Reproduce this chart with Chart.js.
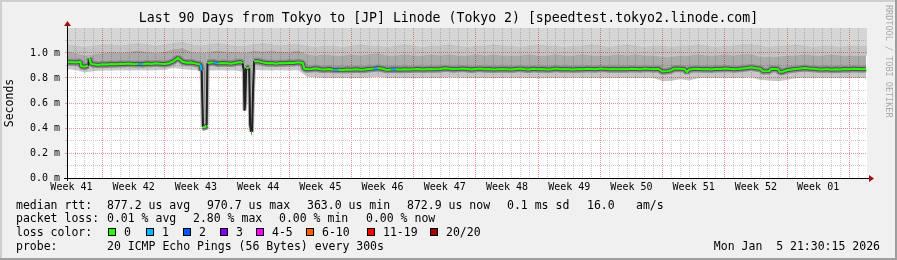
<!DOCTYPE html>
<html>
<head>
<meta charset="utf-8">
<script src="https://cdn.jsdelivr.net/npm/chart.js@4.4.1/dist/chart.umd.min.js"></script>
<style>
  html, body { margin: 0; padding: 0; background: #f0f0f0; }
</style>
</head>
<body>
<canvas id="smokeChart" width="897" height="260"></canvas>
<script>
// Smokeping: Last 90 Days from Tokyo to Linode (Tokyo 2)
// x = days from the left edge of the graph, y = seconds (shown in ms units as "m")

// ---------- data ----------

// median rtt samples (days, value in ms)
const t = [
  0, 0.5, 1, 1.5, 1.6, 2, 2.4, 2.5, 2.7, 3, 3.5,
  4, 4.5, 5, 5.5, 6, 6.5, 7, 7.5, 8, 8.5, 9, 9.5, 10, 10.5,
  11, 11.5, 12, 12.5, 13, 13.5, 14, 14.5, 15, 15.15, 15.3, 15.5, 15.7, 15.8, 16, 16.5, 17, 17.5,
  18, 18.5, 19, 19.5, 19.75, 19.9, 19.97, 20.05, 20.15, 20.5, 20.6, 20.72, 20.82, 20.93, 21.05, 21.5, 22, 22.5, 23, 23.5, 24, 24.5,
  25, 25.5, 26, 26.5, 26.7, 27, 27.5, 28, 28.5, 29, 29.5, 30, 30.5, 31, 31.5,
  32, 32.5, 33, 33.5, 34, 34.5, 35, 35.5, 36, 36.5, 37, 37.5, 38, 38.5,
  39, 39.5, 40, 40.5, 41, 41.5, 42, 42.5, 43, 43.5, 44, 44.5, 45, 45.5,
  46, 46.5, 47, 47.5, 48, 48.5, 49, 49.5, 50, 50.5, 51, 51.5, 52, 52.5,
  53, 53.5, 54, 54.5, 55, 55.5, 56, 56.5, 57, 57.5, 58, 58.5, 59, 59.5,
  60, 60.5, 61, 61.5, 62, 62.5, 63, 63.5, 64, 64.5, 65, 65.5, 66, 66.5,
  67, 67.5, 68, 68.2, 68.5, 69, 69.5, 69.75, 70, 70.5, 71, 71.5, 72, 72.5, 73, 73.5,
  74, 74.5, 75, 75.5, 76, 76.5, 77, 77.5, 78, 78.3, 78.5, 79, 79.2, 79.5, 80, 80.2, 80.5,
  81, 81.5, 82, 82.5, 83, 83.5, 84, 84.5, 85, 85.5, 86, 86.5, 87, 87.5, 88, 88.5, 89, 89.5, 89.9
];
const median = [
  0.925, 0.927, 0.924, 0.930, 0.895, 0.890, 0.900, 0.960, 0.915, 0.910, 0.905,
  0.910, 0.908, 0.912, 0.910, 0.914, 0.912, 0.915, 0.911, 0.913, 0.910, 0.916, 0.913, 0.917, 0.914,
  0.912, 0.918, 0.935, 0.962, 0.930, 0.922, 0.924, 0.915, 0.908, 0.860, 0.410, 0.405, 0.420, 0.920, 0.922, 0.925, 0.915, 0.920,
  0.918, 0.915, 0.922, 0.928, 0.918, 0.860, 0.540, 0.600, 0.880, 0.880, 0.430, 0.370, 0.370, 0.700, 0.935, 0.935, 0.925, 0.918, 0.920, 0.915, 0.920, 0.918,
  0.922, 0.920, 0.925, 0.920, 0.875, 0.870, 0.872, 0.878, 0.870, 0.868, 0.872, 0.865, 0.866, 0.865, 0.868,
  0.866, 0.870, 0.866, 0.868, 0.872, 0.875, 0.880, 0.874, 0.865, 0.868, 0.870, 0.866, 0.870, 0.868,
  0.870, 0.872, 0.868, 0.870, 0.872, 0.870, 0.872, 0.878, 0.875, 0.870, 0.873, 0.876, 0.872, 0.868,
  0.872, 0.875, 0.870, 0.872, 0.868, 0.870, 0.872, 0.870, 0.868, 0.872, 0.875, 0.870, 0.868, 0.874,
  0.870, 0.872, 0.868, 0.870, 0.876, 0.870, 0.872, 0.870, 0.868, 0.872, 0.870, 0.874, 0.872, 0.870,
  0.875, 0.873, 0.870, 0.872, 0.870, 0.872, 0.870, 0.874, 0.872, 0.870, 0.875, 0.873, 0.870, 0.874,
  0.852, 0.855, 0.862, 0.872, 0.876, 0.874, 0.870, 0.848, 0.868, 0.872, 0.874, 0.870, 0.872, 0.868, 0.874, 0.872,
  0.876, 0.874, 0.870, 0.872, 0.876, 0.880, 0.885, 0.878, 0.874, 0.855, 0.855, 0.856, 0.872, 0.874, 0.870, 0.848, 0.850,
  0.862, 0.868, 0.872, 0.876, 0.880, 0.876, 0.874, 0.870, 0.868, 0.872, 0.866, 0.870, 0.868, 0.872, 0.870, 0.874, 0.872, 0.870, 0.872
];

// samples that lost pings (days, lost count of 20)
const lossT = [8.5, 15.15, 17, 19.97, 20.6, 30.5, 35, 37];
const lossN = [1, 1, 1, 1, 1, 1, 1, 1];

// smoke boundaries, one per day (0..90)
const smokeT = [
  0, 1, 2, 3, 4, 5, 6, 7, 8, 9, 10, 11, 12, 13, 14, 15, 16, 17, 18, 19, 20, 21, 22, 23, 24, 25, 26, 27, 28, 29,
  30, 31, 32, 33, 34, 35, 36, 37, 38, 39, 40, 41, 42, 43, 44, 45, 46, 47, 48, 49, 50, 51, 52, 53, 54, 55, 56, 57, 58, 59,
  60, 61, 62, 63, 64, 65, 66, 67, 68, 69, 70, 71, 72, 73, 74, 75, 76, 77, 78, 79, 80, 81, 82, 83, 84, 85, 86, 87, 88, 89, 90
];
const smokeHi = [
  1.07, 1.06, 1.05, 1.06, 1.07, 1.07, 1.06, 1.07, 1.08, 1.07,
  1.06, 1.07, 1.08, 1.09, 1.07, 1.06, 1.07, 1.08, 1.07, 1.06,
  1.06, 1.07, 1.08, 1.07, 1.06, 1.07, 1.07, 1.06, 1.05, 1.06,
  1.06, 1.05, 1.06, 1.07, 1.06, 1.06, 1.05, 1.06, 1.07, 1.06,
  1.05, 1.06, 1.06, 1.07, 1.06, 1.05, 1.06, 1.06, 1.07, 1.06,
  1.06, 1.05, 1.06, 1.07, 1.06, 1.06, 1.05, 1.06, 1.06, 1.07,
  1.06, 1.05, 1.06, 1.07, 1.06, 1.05, 1.06, 1.06, 1.05, 1.06,
  1.06, 1.07, 1.06, 1.05, 1.06, 1.06, 1.07, 1.07, 1.06, 1.05,
  1.06, 1.06, 1.07, 1.06, 1.05, 1.06, 1.06, 1.05, 1.06, 1.06, 1.06
];
const smokeMid = [
  1.01, 1.00, 0.98, 0.99, 1.00, 1.01, 1.00, 1.01, 1.02, 1.01,
  1.00, 1.01, 1.03, 1.04, 1.01, 1.00, 1.01, 1.02, 1.01, 1.01,
  1.00, 1.02, 1.01, 1.02, 1.01, 1.01, 1.02, 0.99, 0.98, 0.99,
  0.98, 0.98, 0.99, 0.98, 0.99, 1.00, 0.98, 0.98, 0.99, 0.98,
  0.98, 0.99, 0.98, 0.99, 0.98, 0.98, 0.99, 0.98, 0.99, 0.98,
  0.98, 0.98, 0.99, 0.98, 0.98, 0.99, 0.98, 0.98, 0.99, 0.98,
  0.98, 0.98, 0.99, 0.98, 0.99, 0.98, 0.98, 0.97, 0.97, 0.98,
  0.98, 0.99, 0.98, 0.98, 0.99, 0.98, 0.99, 0.99, 0.97, 0.97,
  0.97, 0.98, 0.98, 0.99, 0.98, 0.98, 0.99, 0.98, 0.98, 0.98, 0.98
];
const smokeLo = [
  0.870, 0.865, 0.845, 0.855, 0.860, 0.860, 0.862, 0.860, 0.862, 0.860,
  0.862, 0.865, 0.880, 0.870, 0.865, 0.860, 0.860, 0.862, 0.860, 0.860,
  0.845, 0.865, 0.862, 0.860, 0.862, 0.860, 0.862, 0.810, 0.805, 0.800,
  0.800, 0.800, 0.798, 0.800, 0.805, 0.810, 0.800, 0.800, 0.800, 0.798,
  0.800, 0.800, 0.800, 0.805, 0.802, 0.800, 0.800, 0.800, 0.798, 0.800,
  0.800, 0.800, 0.800, 0.798, 0.800, 0.800, 0.800, 0.802, 0.800, 0.800,
  0.800, 0.800, 0.800, 0.800, 0.800, 0.800, 0.800, 0.775, 0.778, 0.790,
  0.780, 0.800, 0.800, 0.800, 0.800, 0.800, 0.800, 0.805, 0.784, 0.780,
  0.775, 0.785, 0.800, 0.800, 0.800, 0.800, 0.800, 0.800, 0.800, 0.800, 0.800
];

// axis ticks
const dayGrid = smokeT;                       // daily minor grid
const weekMid = [0.5, 7.5, 14.5, 21.5, 28.5, 35.5, 42.5, 49.5, 56.5, 63.5, 70.5, 77.5, 84.5];
const weekLabels = ['Week 41', 'Week 42', 'Week 43', 'Week 44', 'Week 45', 'Week 46', 'Week 47',
  'Week 48', 'Week 49', 'Week 50', 'Week 51', 'Week 52', 'Week 01'];
const yGrid = [0, 0.1, 0.2, 0.3, 0.4, 0.5, 0.6, 0.7, 0.8, 0.9, 1.0, 1.1, 1.2];

// legend texts
const rttStats = ['877.2 us avg', '970.7 us max', '363.0 us min', '872.9 us now', '0.1 ms sd', '16.0', 'am/s'];
const lossStats = ['0.01 % avg', '2.80 % max', '0.00 % min', '0.00 % now'];
const lossLabels = ['0', '1', '2', '3', '4-5', '6-10', '11-19', '20/20'];
const lossColors = ['#26ff00', '#00b8ff', '#0059ff', '#7e00ff', '#ff00ff', '#ff5e00', '#ff0000', '#a10000'];
const probeText = '20 ICMP Echo Pings (56 Bytes) every 300s';
const stampText = 'Mon Jan  5 21:30:15 2026';

// ---------- helpers ----------

const W = 897, H = 260;
const MONO = '"DejaVu Sans Mono", monospace';
Chart.defaults.font.family = MONO;
Chart.defaults.color = '#000';

const toPts = (xs, ys) => xs.map((x, i) => ({ x: x, y: ys[i] }));

function lossBucket(n) {
  if (n <= 3) return n;
  if (n <= 5) return 4;
  if (n <= 10) return 5;
  if (n <= 19) return 6;
  return 7;
}
const lossAt = t.map((x) => {
  const k = lossT.indexOf(x);
  return k < 0 ? 0 : lossN[k];
});
const steep = (s) => Math.abs(s.p1.parsed.y - s.p0.parsed.y) > 0.05;

// ---------- decorations: background, arrows, legend ----------

const smokeFrame = {
  id: 'smokeFrame',
  beforeDraw(chart) {
    const c = chart.ctx;
    const a = chart.chartArea;
    c.save();
    c.fillStyle = '#f0f0f0';
    c.fillRect(0, 0, W, H);
    c.fillStyle = '#cfcfcf';
    c.fillRect(0, 0, W, 2);
    c.fillRect(0, 0, 2, H);
    c.fillStyle = '#9e9e9e';
    c.fillRect(0, H - 2, W, 2);
    c.fillRect(W - 2, 0, 2, H);
    c.fillStyle = '#ffffff';
    c.fillRect(a.left, a.top, a.right - a.left, a.bottom - a.top);
    c.restore();
  },
  afterDatasetsDraw(chart) {
    const c = chart.ctx;
    const a = chart.chartArea;
    c.save();
    // axis lines
    c.strokeStyle = '#000';
    c.lineWidth = 1;
    c.beginPath();
    c.moveTo(a.left + 0.5, a.top - 2);
    c.lineTo(a.left + 0.5, a.bottom + 3);
    c.moveTo(a.left - 3, a.bottom + 0.5);
    c.lineTo(a.right + 3, a.bottom + 0.5);
    c.stroke();
    // arrows
    c.fillStyle = '#a01010';
    c.beginPath();
    c.moveTo(a.left + 0.5, a.top - 7);
    c.lineTo(a.left - 3, a.top - 2);
    c.lineTo(a.left + 4, a.top - 2);
    c.closePath();
    c.fill();
    c.beginPath();
    c.moveTo(a.right + 7, a.bottom + 0.5);
    c.lineTo(a.right + 2, a.bottom - 3);
    c.lineTo(a.right + 2, a.bottom + 4);
    c.closePath();
    c.fill();
    c.restore();
  },
  afterDraw(chart) {
    const c = chart.ctx;
    c.save();
    c.fillStyle = '#000';
    c.textBaseline = 'alphabetic';
    c.font = '11.5px ' + MONO;

    // median rtt
    const rttX = [107, 207, 307, 407, 507, 587, 636];
    c.fillText('median rtt:', 16, 208.5);
    rttStats.forEach((s, i) => c.fillText(s, rttX[i], 208.5));

    // packet loss
    const lossX = [107, 193, 279, 366];
    c.fillText('packet loss:', 16, 222.3);
    lossStats.forEach((s, i) => c.fillText(s, lossX[i], 222.3));

    // loss color
    const boxX = [108, 145.5, 182.5, 219.5, 256, 306, 366.5, 430];
    c.fillText('loss color:', 16, 236);
    lossLabels.forEach((s, i) => {
      const x = Math.round(boxX[i]);
      c.fillStyle = '#000';
      c.fillRect(x, 228, 8, 8);
      c.fillStyle = lossColors[i];
      c.fillRect(x + 1, 229, 6, 6);
      c.fillStyle = '#000';
      c.fillText(s, x + 16, 236);
    });

    // probe + timestamp
    c.fillText('probe:', 16, 249.7);
    c.fillText(probeText, 107, 249.7);
    c.textAlign = 'right';
    c.fillText(stampText, 880, 249.7);

    // watermark
    c.textAlign = 'left';
    c.translate(885.5, 5);
    c.rotate(Math.PI / 2);
    c.font = '8.5px ' + MONO;
    c.fillStyle = '#a8a8a8';
    c.fillText('RRDTOOL / TOBI OETIKER', 0, 0);
    c.restore();
  }
};

// ---------- chart ----------

const noLine = 'rgba(0,0,0,0)';
const smokeBand = (xs, ys, order, fill, color) => ({
  data: toPts(xs, ys),
  order: order,
  borderColor: noLine,
  borderWidth: 0,
  pointRadius: 0,
  fill: fill,
  backgroundColor: color
});

new Chart(document.getElementById('smokeChart'), {
  type: 'line',
  data: {
    datasets: [
      {
        // 0: median, coloured by loss
        data: toPts(t, median),
        order: 0,
        borderColor: lossColors[0],
        borderWidth: 2,
        pointRadius: 0,
        fill: false,
        segment: {
          borderColor: (s) => steep(s) ? '#202020' : lossColors[lossBucket(lossAt[s.p1DataIndex])],
          borderWidth: (s) => steep(s) ? 1 : 2
        }
      },
      {
        // 1: dark core around median
        data: toPts(t, median),
        order: 1,
        borderColor: '#505050',
        borderWidth: 4,
        borderJoinStyle: 'bevel',
        pointRadius: 0,
        fill: false,
        segment: {
          borderColor: (s) => steep(s) ? '#202020' : undefined,
          borderWidth: (s) => steep(s) ? 2 : undefined
        }
      },
      {
        // 2: smoke halo around median
        data: toPts(t, median),
        order: 2,
        borderColor: '#8c8c8c',
        borderWidth: 7,
        borderJoinStyle: 'bevel',
        pointRadius: 0,
        fill: false,
        clip: 0,
        segment: {
          borderColor: (s) => steep(s) ? '#b4b4b4' : undefined,
          borderWidth: (s) => steep(s) ? 4 : undefined
        }
      },
      // 3: smoke below the median (smokeLo .. median)
      smokeBand(smokeT, smokeLo, 3, 2, 'rgba(0,0,0,0.22)'),
      // 4: smoke just above the median (smokeMid .. median)
      smokeBand(smokeT, smokeMid, 4, 2, 'rgba(0,0,0,0.33)'),
      // 5: middle smoke (smokeHi .. smokeMid)
      smokeBand(smokeT, smokeHi, 5, 4, 'rgba(0,0,0,0.23)'),
      // 6: upper smoke (smokeHi .. top)
      smokeBand(smokeT, smokeHi, 6, 'end', 'rgba(0,0,0,0.16)')
    ]
  },
  options: {
    responsive: false,
    animation: false,
    devicePixelRatio: 1,
    events: [],
    layout: { padding: { left: 0, right: 0, top: 0, bottom: 68 } },
    elements: { line: { tension: 0, borderCapStyle: 'butt' } },
    scales: {
      x: {
        type: 'linear',
        min: 0,
        max: 90,
        position: 'bottom',
        afterBuildTicks: (s) => {
          s.ticks = dayGrid.concat(weekMid).sort((a, b) => a - b).map((v) => ({ value: v }));
        },
        afterFit: (s) => { s.height = 14; },
        ticks: {
          autoSkip: false,
          maxRotation: 0,
          minRotation: 0,
          padding: 3,
          font: { size: 10 },
          color: '#000',
          callback: (v) => {
            const k = weekMid.indexOf(v);
            return k >= 0 ? weekLabels[k] : '';
          }
        },
        grid: {
          drawTicks: false,
          lineWidth: 1,
          color: (ctx) => {
            const v = ctx.tick.value;
            if (weekMid.indexOf(v) >= 0 || v === 0 || v === 90) return noLine;
            return (v - 4) % 7 === 0 ? '#f09090' : '#cccccc';
          }
        },
        border: { display: false, dash: [1, 1] }
      },
      y: {
        type: 'linear',
        min: 0,
        max: 1.2,
        position: 'left',
        afterBuildTicks: (s) => { s.ticks = yGrid.map((v) => ({ value: v })); },
        afterFit: (s) => { s.width = 67; },
        ticks: {
          autoSkip: false,
          padding: 5,
          font: { size: 10 },
          color: '#000',
          callback: (v) => {
            const k = Math.round(v * 10);
            return (k % 2 === 0 && k <= 10) ? v.toFixed(1) + ' m' : '';
          }
        },
        grid: {
          drawTicks: true,
          tickLength: 2,
          lineWidth: 1,
          color: (ctx) => {
            const k = Math.round(ctx.tick.value * 10);
            if (k === 0 || k === 12) return noLine;
            return k % 2 === 0 ? '#f09090' : '#cccccc';
          },
          tickColor: (ctx) => {
            const k = Math.round(ctx.tick.value * 10);
            if (k === 0 || k === 12) return noLine;
            return k % 2 === 0 ? '#f09090' : '#cccccc';
          }
        },
        border: { display: false, dash: [1, 1] },
        title: {
          display: true,
          text: 'Seconds',
          color: '#000',
          font: { size: 11.5, lineHeight: 1.2 },
          padding: { top: 3.5, bottom: 0 }
        }
      },
      yr: {
        // empty right margin so the title stays centred on the whole image
        type: 'linear',
        position: 'right',
        display: true,
        afterFit: (s) => { s.width = 30; },
        ticks: { display: false },
        grid: { display: false },
        border: { display: false }
      }
    },
    plugins: {
      legend: { display: false },
      tooltip: { enabled: false },
      title: {
        display: true,
        text: 'Last 90 Days from Tokyo to [JP] Linode (Tokyo 2) [speedtest.tokyo2.linode.com]',
        color: '#000',
        font: { size: 13.2, weight: 'normal', lineHeight: 1.2 },
        padding: { top: 10.5, bottom: 1.66 }
      }
    }
  },
  plugins: [smokeFrame]
});
</script>
</body>
</html>
